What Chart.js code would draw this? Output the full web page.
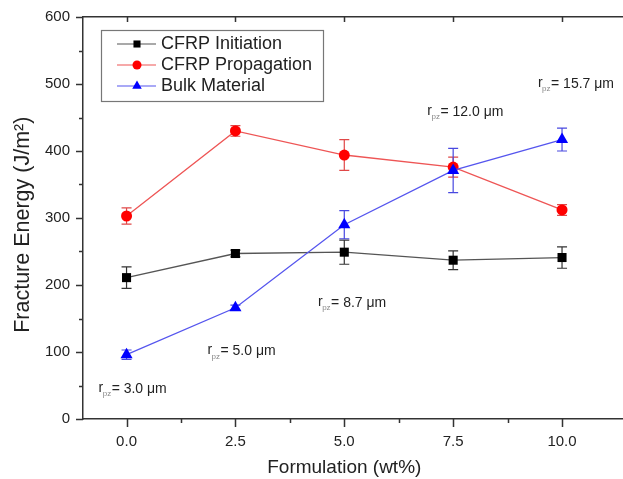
<!DOCTYPE html>
<html><head><meta charset="utf-8">
<script src="https://cdn.jsdelivr.net/npm/chart.js@4.4.1/dist/chart.umd.min.js"></script>
<style>html,body{margin:0;padding:0;background:#fff;overflow:hidden}#wrap{width:623px;height:479px;position:relative}</style>
</head><body><div id="wrap"><canvas id="c" width="623" height="479" style="width:623px;height:479px"></canvas></div>
<script>
// ---- data ----
const formulation = [0, 2.5, 5, 7.5, 10];
const initiation = [211, 247, 249, 237, 241];
const initiationErr = [16, 5, 18, 14, 16];
const propagation = [303, 430, 394, 376, 312];
const propagationErr = [12, 8, 23, 15, 8];
const bulk = [96, 166, 290, 371, 417];
const bulkErr = [7, 4, 21, 33, 17];
const seriesNames = ['CFRP Initiation', 'CFRP Propagation', 'Bulk Material'];
const xTickValues = [0, 2.5, 5, 7.5, 10];
const xMinorValues = [1.25, 3.75, 6.25, 8.75];
const yTickValues = [0, 100, 200, 300, 400, 500, 600];
const yMinorValues = [50, 150, 250, 350, 450, 550];
const rpzValues = ['3.0 μm', '5.0 μm', '8.7 μm', '12.0 μm', '15.7 μm'];
const xTitle = 'Formulation (wt%)';
const yTitle = 'Fracture Energy (J/m²)';

// ---- styling / placement ----
const FONT = "'Liberation Sans', Arial, sans-serif";
const rpzPlacement = [[0.14, 45], [2.64, 101], [5.18, 173], [7.78, 458], [10.32, 500]];
const styles = [
  {line: '#555555', mark: '#000000', err: '#333333', shape: 'rect', r: 6.4, lr: 5},
  {line: '#ee5555', mark: '#ff0000', err: '#e04848', shape: 'circle', r: 5.5, lr: 4.5},
  {line: '#5555ee', mark: '#0000ff', err: '#4848e0', shape: 'triangle', r: 7, lr: 5.5}
];
const values = [initiation, propagation, bulk];
const errors = [initiationErr, propagationErr, bulkErr];

const datasets = values.map((vals, i) => ({
  label: seriesNames[i],
  data: formulation.map((x, j) => ({x: x, y: vals[j]})),
  borderColor: styles[i].line,
  borderWidth: 1.3,
  backgroundColor: styles[i].mark,
  pointBackgroundColor: styles[i].mark,
  pointBorderColor: styles[i].mark,
  pointBorderWidth: 0,
  pointStyle: styles[i].shape,
  pointRadius: styles[i].r,
  pointHoverRadius: styles[i].r,
  tension: 0,
  order: 2 - i,
  errs: errors[i]
}));

const errorBars = {
  id: 'errorBars',
  beforeDatasetsDraw(chart) {
    const ctx = chart.ctx, xs = chart.scales.x, ys = chart.scales.y;
    ctx.save();
    chart.data.datasets.forEach((ds, i) => {
      ctx.strokeStyle = styles[i].err;
      ctx.lineWidth = 1.2;
      ds.data.forEach((p, j) => {
        const e = ds.errs[j];
        const px = xs.getPixelForValue(p.x);
        const y1 = ys.getPixelForValue(p.y + e), y2 = ys.getPixelForValue(p.y - e);
        ctx.beginPath();
        ctx.moveTo(px, y1); ctx.lineTo(px, y2);
        ctx.moveTo(px - 5, y1); ctx.lineTo(px + 5, y1);
        ctx.moveTo(px - 5, y2); ctx.lineTo(px + 5, y2);
        ctx.stroke();
      });
    });
    ctx.restore();
  }
};

function drawMarker(ctx, shape, x, y, r, color) {
  ctx.fillStyle = color;
  ctx.beginPath();
  if (shape === 'rect') {
    const s = r / Math.SQRT2;
    ctx.rect(x - s, y - s, 2 * s, 2 * s);
  } else if (shape === 'circle') {
    ctx.arc(x, y, r, 0, Math.PI * 2);
  } else {
    ctx.moveTo(x, y - r);
    ctx.lineTo(x + r * Math.sin(Math.PI * 2 / 3), y - r * Math.cos(Math.PI * 2 / 3));
    ctx.lineTo(x + r * Math.sin(Math.PI * 4 / 3), y - r * Math.cos(Math.PI * 4 / 3));
    ctx.closePath();
  }
  ctx.fill();
}

const extras = {
  id: 'extras',
  afterDraw(chart) {
    const ctx = chart.ctx, xs = chart.scales.x, ys = chart.scales.y, a = chart.chartArea;
    ctx.save();
    // tick marks
    ctx.strokeStyle = '#333';
    ctx.lineWidth = 1.5;
    ctx.beginPath();
    yTickValues.forEach(v => { const p = Math.round(ys.getPixelForValue(v)) + 0.5; ctx.moveTo(a.left - 7, p); ctx.lineTo(a.left, p); });
    yMinorValues.forEach(v => { const p = Math.round(ys.getPixelForValue(v)) + 0.5; ctx.moveTo(a.left - 4, p); ctx.lineTo(a.left, p); });
    xTickValues.forEach(v => { const p = Math.round(xs.getPixelForValue(v)) + 0.5; ctx.moveTo(p, a.bottom); ctx.lineTo(p, a.bottom + 8);
      ctx.moveTo(p, a.top); ctx.lineTo(p, a.top + 5); });
    xMinorValues.forEach(v => { const p = Math.round(xs.getPixelForValue(v)) + 0.5; ctx.moveTo(p, a.bottom); ctx.lineTo(p, a.bottom + 4); });
    ctx.stroke();

    // axis titles
    ctx.fillStyle = '#222'; ctx.textAlign = 'center'; ctx.textBaseline = 'middle';
    ctx.font = '19px ' + FONT;
    ctx.fillText(xTitle, xs.getPixelForValue(5), 468);
    ctx.save();
    ctx.translate(23, ys.getPixelForValue(290));
    ctx.rotate(-Math.PI / 2);
    ctx.font = '21.5px ' + FONT;
    ctx.fillText(yTitle, 0, 0);
    ctx.restore();

    // r_pz annotations
    rpzValues.forEach((txt, i) => {
      const cx = xs.getPixelForValue(rpzPlacement[i][0]);
      const cy = ys.getPixelForValue(rpzPlacement[i][1]);
      const big = '14px ' + FONT, small = '8px ' + FONT;
      ctx.font = big; const wr = ctx.measureText('r').width; const wm = ctx.measureText('= ' + txt).width;
      ctx.font = small; const ws = ctx.measureText('pz').width;
      let x = cx - (wr + ws + wm) / 2;
      ctx.textBaseline = 'middle'; ctx.textAlign = 'left';
      ctx.font = big; ctx.fillStyle = '#222'; ctx.fillText('r', x, cy - 1);
      ctx.font = small; ctx.fillStyle = '#888'; ctx.fillText('pz', x + wr - 0.5, cy + 5);
      ctx.font = big; ctx.fillStyle = '#222'; ctx.fillText('= ' + txt, x + wr + ws, cy);
    });

    // legend
    const lx = a.left + 18, ly = a.top + 13, lw = 222, lh = 71;
    ctx.strokeStyle = '#777'; ctx.lineWidth = 1.2;
    ctx.strokeRect(lx + 0.5, ly + 0.5, lw, lh);
    seriesNames.forEach((name, i) => {
      const yy = ly + 14 + i * 21;
      ctx.strokeStyle = styles[i].line; ctx.lineWidth = 1.2;
      ctx.beginPath(); ctx.moveTo(lx + 16, yy); ctx.lineTo(lx + 55, yy); ctx.stroke();
      drawMarker(ctx, styles[i].shape, lx + 36, yy, styles[i].lr, styles[i].mark);
      ctx.font = '18px ' + FONT; ctx.fillStyle = '#222'; ctx.textBaseline = 'middle'; ctx.textAlign = 'left';
      ctx.fillText(name, lx + 60, yy);
    });
    ctx.restore();
  }
};

function noPad(s) { s.paddingLeft = 0; s.paddingRight = 0; s.paddingTop = 0; s.paddingBottom = 0; }

new Chart(document.getElementById('c'), {
  type: 'line',
  data: {datasets: datasets},
  plugins: [errorBars, extras],
  options: {
    responsive: false,
    maintainAspectRatio: false,
    animation: false,
    devicePixelRatio: 1,
    layout: {autoPadding: false, padding: {left: 0, right: 0, top: 0, bottom: 0}},
    plugins: {legend: {display: false}, tooltip: {enabled: false}},
    scales: {
      x: {
        type: 'linear', position: 'bottom', min: -1.0, max: 11.4,
        afterBuildTicks: s => { s.ticks = xTickValues.map(v => ({value: v})); },
        afterFit: s => { s.height = 60; noPad(s); },
        grid: {display: false, drawTicks: false},
        border: {display: true, color: '#333', width: 1.5},
        ticks: {padding: 14, color: '#222', font: {family: FONT, size: 15}, callback: v => Number(v).toFixed(1), maxRotation: 0, autoSkip: false},
        title: {display: false}
      },
      xTop: {
        type: 'linear', position: 'top', min: -1.0, max: 11.4,
        afterFit: s => { s.height = 17; noPad(s); },
        grid: {display: false, drawTicks: false},
        border: {display: true, color: '#333', width: 1.5},
        ticks: {display: false}
      },
      y: {
        min: 0, max: 600,
        afterBuildTicks: s => { s.ticks = yTickValues.map(v => ({value: v})); },
        afterFit: s => { s.width = 83; noPad(s); },
        grid: {display: false, drawTicks: false},
        border: {display: true, color: '#333', width: 1.5},
        ticks: {padding: 13, color: '#222', font: {family: FONT, size: 15}},
        title: {display: false}
      }
    }
  }
});
</script>
</body></html>
